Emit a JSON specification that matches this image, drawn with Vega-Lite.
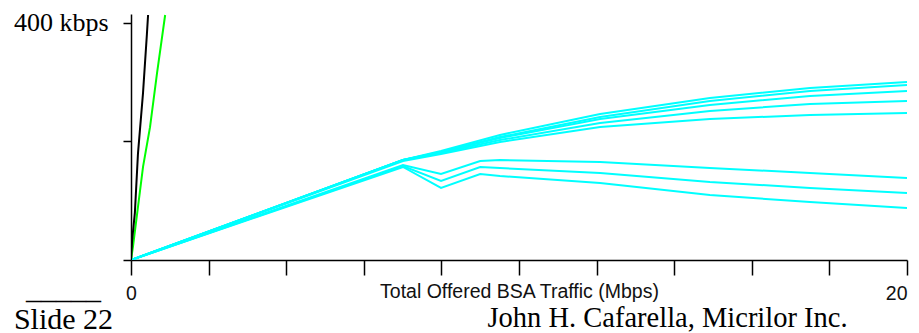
{
  "$schema": "https://vega.github.io/schema/vega-lite/v6.json",
  "width": 776,
  "height": 246,
  "autosize": {"type": "none"},
  "padding": {"left": 131, "top": 14, "right": 12, "bottom": 73},
  "background": "white",
  "config": {"view": {"stroke": null}},
  "data": {"values": [
    {"series": "U1", "group": "cyan", "x": 0, "y": 0},
    {"series": "U1", "group": "cyan", "x": 7.01, "y": 168.7},
    {"series": "U1", "group": "cyan", "x": 7.99, "y": 183.9},
    {"series": "U1", "group": "cyan", "x": 9.51, "y": 210.9},
    {"series": "U1", "group": "cyan", "x": 12.09, "y": 246.3},
    {"series": "U1", "group": "cyan", "x": 14.92, "y": 273.3},
    {"series": "U1", "group": "cyan", "x": 17.5, "y": 290.2},
    {"series": "U1", "group": "cyan", "x": 20, "y": 300.3},
    {"series": "U2", "group": "cyan", "x": 0, "y": 0},
    {"series": "U2", "group": "cyan", "x": 7.01, "y": 168.7},
    {"series": "U2", "group": "cyan", "x": 7.99, "y": 182.2},
    {"series": "U2", "group": "cyan", "x": 9.51, "y": 207.5},
    {"series": "U2", "group": "cyan", "x": 12.09, "y": 241.2},
    {"series": "U2", "group": "cyan", "x": 14.92, "y": 268.2},
    {"series": "U2", "group": "cyan", "x": 17.5, "y": 285.1},
    {"series": "U2", "group": "cyan", "x": 20, "y": 295.2},
    {"series": "U3", "group": "cyan", "x": 0, "y": 0},
    {"series": "U3", "group": "cyan", "x": 7.01, "y": 168.7},
    {"series": "U3", "group": "cyan", "x": 7.99, "y": 182.2},
    {"series": "U3", "group": "cyan", "x": 9.51, "y": 205.8},
    {"series": "U3", "group": "cyan", "x": 12.09, "y": 237.9},
    {"series": "U3", "group": "cyan", "x": 14.92, "y": 261.5},
    {"series": "U3", "group": "cyan", "x": 17.5, "y": 276.7},
    {"series": "U3", "group": "cyan", "x": 20, "y": 285.1},
    {"series": "U4", "group": "cyan", "x": 0, "y": 0},
    {"series": "U4", "group": "cyan", "x": 7.01, "y": 168.7},
    {"series": "U4", "group": "cyan", "x": 7.99, "y": 180.5},
    {"series": "U4", "group": "cyan", "x": 9.51, "y": 202.4},
    {"series": "U4", "group": "cyan", "x": 12.09, "y": 231.1},
    {"series": "U4", "group": "cyan", "x": 14.92, "y": 251.4},
    {"series": "U4", "group": "cyan", "x": 17.5, "y": 263.2},
    {"series": "U4", "group": "cyan", "x": 20, "y": 268.2},
    {"series": "U5", "group": "cyan", "x": 0, "y": 0},
    {"series": "U5", "group": "cyan", "x": 7.01, "y": 167},
    {"series": "U5", "group": "cyan", "x": 7.99, "y": 178.8},
    {"series": "U5", "group": "cyan", "x": 9.51, "y": 199.1},
    {"series": "U5", "group": "cyan", "x": 12.09, "y": 224.4},
    {"series": "U5", "group": "cyan", "x": 14.92, "y": 237.9},
    {"series": "U5", "group": "cyan", "x": 17.5, "y": 244.6},
    {"series": "U5", "group": "cyan", "x": 20, "y": 248},
    {"series": "L1", "group": "cyan", "x": 0, "y": 0},
    {"series": "L1", "group": "cyan", "x": 7.01, "y": 160.3},
    {"series": "L1", "group": "cyan", "x": 7.99, "y": 145.1},
    {"series": "L1", "group": "cyan", "x": 9.0, "y": 167},
    {"series": "L1", "group": "cyan", "x": 9.51, "y": 168.7},
    {"series": "L1", "group": "cyan", "x": 12.09, "y": 165.3},
    {"series": "L1", "group": "cyan", "x": 14.92, "y": 155.2},
    {"series": "L1", "group": "cyan", "x": 17.5, "y": 146.8},
    {"series": "L1", "group": "cyan", "x": 20, "y": 138.3},
    {"series": "L2", "group": "cyan", "x": 0, "y": 0},
    {"series": "L2", "group": "cyan", "x": 7.01, "y": 158.6},
    {"series": "L2", "group": "cyan", "x": 7.99, "y": 133.3},
    {"series": "L2", "group": "cyan", "x": 9.0, "y": 156.9},
    {"series": "L2", "group": "cyan", "x": 9.51, "y": 155.2},
    {"series": "L2", "group": "cyan", "x": 12.09, "y": 146.8},
    {"series": "L2", "group": "cyan", "x": 14.92, "y": 131.6},
    {"series": "L2", "group": "cyan", "x": 17.5, "y": 121.5},
    {"series": "L2", "group": "cyan", "x": 20, "y": 113},
    {"series": "L3", "group": "cyan", "x": 0, "y": 0},
    {"series": "L3", "group": "cyan", "x": 7.01, "y": 156.9},
    {"series": "L3", "group": "cyan", "x": 7.99, "y": 121.5},
    {"series": "L3", "group": "cyan", "x": 9.0, "y": 145.1},
    {"series": "L3", "group": "cyan", "x": 9.51, "y": 141.7},
    {"series": "L3", "group": "cyan", "x": 12.09, "y": 129.9},
    {"series": "L3", "group": "cyan", "x": 14.92, "y": 109.7},
    {"series": "L3", "group": "cyan", "x": 17.5, "y": 97.8},
    {"series": "L3", "group": "cyan", "x": 20, "y": 87.7},
    {"series": "G", "group": "green", "x": 0, "y": 0},
    {"series": "G", "group": "green", "x": 0.05, "y": 22},
    {"series": "G", "group": "green", "x": 0.31, "y": 157},
    {"series": "G", "group": "green", "x": 0.49, "y": 224},
    {"series": "G", "group": "green", "x": 0.67, "y": 315},
    {"series": "G", "group": "green", "x": 0.88, "y": 413.3},
    {"series": "B", "group": "black", "x": 0, "y": 0},
    {"series": "B", "group": "black", "x": 0.03, "y": 34},
    {"series": "B", "group": "black", "x": 0.1, "y": 80},
    {"series": "B", "group": "black", "x": 0.18, "y": 180},
    {"series": "B", "group": "black", "x": 0.31, "y": 282},
    {"series": "B", "group": "black", "x": 0.41, "y": 381},
    {"series": "B", "group": "black", "x": 0.44, "y": 413.3}
  ]},
  "layer": [
    {
      "transform": [{"filter": "datum.group != 'black'"}],
      "mark": {"type": "line", "strokeWidth": 2, "clip": true},
      "encoding": {
        "x": {
          "field": "x", "type": "quantitative",
          "scale": {"domain": [0, 20], "nice": false, "zero": false},
          "axis": {
            "values": [0, 2, 4, 6, 8, 10, 12, 14, 16, 18, 20],
            "labelExpr": "datum.value == 0 || datum.value == 20 ? datum.label : ''",
            "labelAlign": {"expr": "datum.value == 20 ? 'right' : 'center'"},
            "labelFont": "Liberation Sans",
            "labelFontSize": 19.5,
            "labelColor": "#111111",
            "labelPadding": 9,
            "labelFlush": false,
            "labelOverlap": false,
            "tickSize": 15,
            "tickColor": "black",
            "tickWidth": 1.5,
            "domainColor": "black",
            "domainWidth": 1.5,
            "grid": false,
            "title": "Total Offered BSA Traffic (Mbps)",
            "titleFont": "Liberation Sans",
            "titleFontSize": 19.5,
            "titleFontWeight": "normal",
            "titleColor": "#111111",
            "titleAlign": "center",
            "titleBaseline": "top",
            "titleX": 388,
            "titleY": 22
          }
        },
        "y": {
          "field": "y", "type": "quantitative",
          "scale": {"domain": [0, 415], "nice": false},
          "axis": {
            "values": [0, 200, 400],
            "labelExpr": "datum.value == 400 ? '400 kbps' : ''",
            "labelFont": "Liberation Serif",
            "labelFontSize": 26,
            "labelColor": "black",
            "labelPadding": 15,
            "tickSize": 8,
            "tickColor": "black",
            "tickWidth": 1.5,
            "domainColor": "black",
            "domainWidth": 1.5,
            "grid": false,
            "title": ["_____", "Slide 22"],
            "titleFont": "Liberation Serif",
            "titleFontSize": 30,
            "titleFontWeight": "normal",
            "titleColor": "black",
            "titleAngle": 0,
            "titleAlign": "center",
            "titleBaseline": "alphabetic",
            "titleX": -68,
            "titleY": 284,
            "titleLineHeight": 30
          }
        },
        "color": {
          "field": "group", "type": "nominal",
          "scale": {"domain": ["cyan", "green"], "range": ["#00FFFF", "#00FF00"]},
          "legend": null
        },
        "detail": {"field": "series"}
      }
    },
    {
      "transform": [{"filter": "datum.group == 'black'"}],
      "mark": {"type": "line", "strokeWidth": 2, "color": "black", "clip": true},
      "encoding": {
        "x": {"field": "x", "type": "quantitative"},
        "y": {
          "field": "y", "type": "quantitative",
          "scale": {"domain": [0, 415], "nice": false},
          "axis": {
            "orient": "right",
            "domain": false,
            "ticks": false,
            "labels": false,
            "grid": false,
            "title": "John H. Cafarella, Micrilor Inc.",
            "titleFont": "Liberation Serif",
            "titleFontSize": 28.5,
            "titleFontWeight": "normal",
            "titleColor": "black",
            "titleAngle": 0,
            "titleAlign": "left",
            "titleBaseline": "alphabetic",
            "titleX": -420,
            "titleY": 312
          }
        },
        "detail": {"field": "series"}
      }
    }
  ],
  "resolve": {"scale": {"y": "independent"}, "axis": {"y": "independent"}}
}
